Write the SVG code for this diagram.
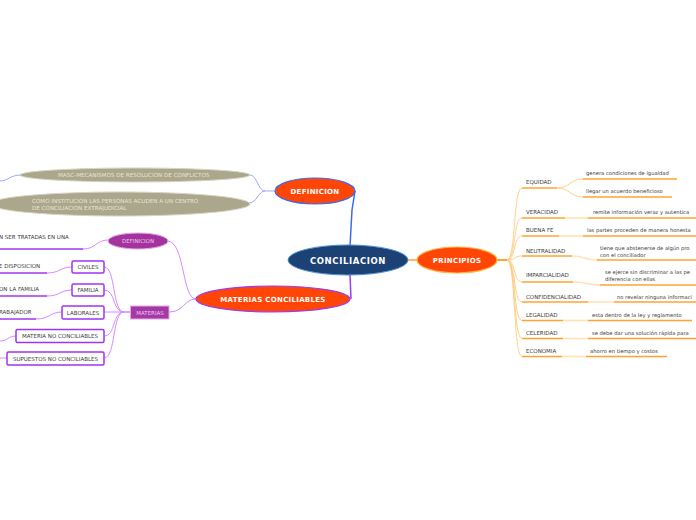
<svg xmlns="http://www.w3.org/2000/svg" width="696" height="520" viewBox="0 0 696 520">
<style>
text{font-family:"DejaVu Sans","Liberation Sans",sans-serif}
.t{font-size:5.2px;fill:#3a3a3a}
.u{font-size:5.5px;fill:#3a3a3a}
.main{font-size:7px;font-weight:bold;fill:#ffffff;text-anchor:middle;letter-spacing:0.3px}
.gt{font-size:5.6px;fill:#e6e3cf}
.pk{font-size:5.5px;fill:#f3c4f0;text-anchor:middle}
.box{fill:#ffffff;stroke:#a033f2;stroke-width:1.5}
.ou{stroke:#ffa32e;stroke-width:1.6;fill:none}
.ol{stroke:#ffe2b8;stroke-width:1.6;fill:none}
.oc{stroke:#ffcb7f;stroke-width:0.9;fill:none}
.pu{stroke:#a533f0;stroke-width:1.5;fill:none}
.pc{stroke:#d08cff;stroke-width:1;fill:none}
.bc{stroke:#99aaff;stroke-width:1;fill:none}
</style>
<g id="connectors">
<path d="M350,246 L352,210 L355,191" stroke="#3a6af0" stroke-width="1.5" fill="none"/>
<path d="M350,275 L351,299" stroke="#9a3cf5" stroke-width="1.5" fill="none"/>
<path d="M407,260 L418,260" stroke="#ffb868" stroke-width="2" fill="none"/>
<path d="M275,191 L265,191" class="bc"/>
<path d="M265,191 C258,191 257,175 250,175" class="bc"/>
<path d="M265,191 C258,191 257,203 249,203" class="bc"/>
<path d="M21,175 C10,175 8,181 0,181" class="bc"/>
<path d="M196,299 C182,299 185,243 168,241" class="pc"/>
<path d="M196,299 C184,299 184,312 169,312" class="pc"/>
<path d="M108,240 C96,240 96,249 83,249" class="pc"/>
<path d="M130,312 L124,312" stroke="#d08cff" stroke-width="1.6"/>
<path d="M124,312 C112,312 116,267 104,267" class="pc"/>
<path d="M124,312 C112,312 116,290 104,290" class="pc"/>
<path d="M124,312 L104,312" class="pc"/>
<path d="M124,312 C112,312 116,336 104,336" class="pc"/>
<path d="M124,312 C112,312 116,358 104,358" class="pc"/>
<path d="M72,267 C60,267 60,273 47,273" class="pc"/>
<path d="M72,290 C60,290 60,296 47,296" class="pc"/>
<path d="M62,312 C50,312 50,319 36,319" class="pc"/>
<path d="M16,336 C8,336 8,341 0,341" class="pc"/>
<path d="M7,358 L0,358" class="pc"/>
<path d="M497,260 L507,260" stroke="#ffa32e" stroke-width="2"/>
<path d="M507,260 C516,260 513,188 522,188" class="oc"/>
<path d="M507,260 C516,260 513,218 522,218" class="oc"/>
<path d="M507,260 C516,260 513,236 522,236" class="oc"/>
<path d="M507,260 C516,260 513,256 522,256" class="oc"/>
<path d="M507,260 C516,260 513,282 522,282" class="oc"/>
<path d="M507,260 C516,260 513,302 522,302" class="oc"/>
<path d="M507,260 C516,260 513,320.5 522,320.5" class="oc"/>
<path d="M507,260 C516,260 513,338.5 522,338.5" class="oc"/>
<path d="M507,260 C516,260 513,356.5 522,356.5" class="oc"/>
<path d="M557,188 C570,188 570,179 583,179" class="oc"/>
<path d="M557,188 C570,188 570,197 583,197" class="oc"/>
<path d="M565,218 L588,218" class="ol"/>
<path d="M559,236 L583,236" class="ol"/>
<path d="M572,256 C585,256 584,260 597,260" class="ol"/>
<path d="M573,282 C587,282 586,285 600,285" class="ol"/>
<path d="M588,302 L614,302" class="ol"/>
<path d="M563,320.5 L588,320.5" class="ol"/>
<path d="M563,338.5 L588,338.5" class="ol"/>
<path d="M562,356.5 L586,356.5" class="ol"/>
</g>
<g id="conciliacion">
<ellipse cx="348" cy="260" rx="60" ry="15" fill="#1c4174" stroke="#4a8fd0" stroke-width="1"/>
<text x="348" y="263.5" class="main" style="font-size:8.5px;letter-spacing:0.6px">CONCILIACION</text>
</g>
<g id="definicion">
<ellipse cx="315" cy="191" rx="40" ry="13" fill="#ff4606" stroke="#3a6af0" stroke-width="1.2"/>
<text x="315" y="193.5" class="main">DEFINICION</text>
</g>
<g id="materias-conciliables">
<ellipse cx="273" cy="299" rx="77" ry="13" fill="#ff4606" stroke="#9a3cf5" stroke-width="1.2"/>
<text x="273" y="301.5" class="main">MATERIAS CONCILIABLES</text>
</g>
<g id="principios">
<ellipse cx="457" cy="260" rx="40" ry="13" fill="#ff4606" stroke="#ffb040" stroke-width="1.2"/>
<text x="457" y="262.5" class="main">PRINCIPIOS</text>
</g>
<g id="masc">
<ellipse cx="135" cy="175" rx="115" ry="7" fill="#aba78d" stroke="#d6d3c2" stroke-width="1"/>
<text x="58" y="177" class="gt">MASC-MECANISMOS DE RESOLUCION DE CONFLICTOS</text>
</g>
<g id="como-institucion">
<ellipse cx="120" cy="204" rx="130" ry="12" fill="#aba78d" stroke="#d6d3c2" stroke-width="1"/>
<text x="32" y="202.5" class="gt">COMO INSTITUCION LAS PERSONAS ACUDEN A UN CENTRO</text>
<text x="32" y="209.5" class="gt">DE CONCILIACION EXTRAJUDICIAL</text>
</g>
<g id="definicion-sub">
<ellipse cx="138" cy="241" rx="30" ry="8" fill="#a3349e" stroke="#e6a6e6" stroke-width="1"/>
<text x="138" y="243" class="pk">DEFINICION</text>
</g>
<g id="tratadas">
<text x="-1" y="239" class="u">N SER TRATADAS EN UNA</text>
<path d="M0,249 L83,249" class="pu"/>
</g>
<g id="materias">
<rect x="130.5" y="306" width="38.5" height="13" fill="#a43aa6" stroke="#e6a6e6" stroke-width="1"/>
<text x="150" y="314.5" class="pk">MATERIAS</text>
</g>
<g id="civiles">
<rect x="72" y="261" width="32" height="12" rx="1.5" class="box"/>
<text x="88" y="269" class="u" text-anchor="middle">CIVILES</text>
</g>
<g id="disposicion">
<text x="-1" y="268" class="u">E DISPOSICION</text>
<path d="M0,273 L47,273" class="pu"/>
</g>
<g id="familia">
<rect x="72" y="284" width="32" height="12" rx="1.5" class="box"/>
<text x="88" y="292" class="u" text-anchor="middle">FAMILIA</text>
</g>
<g id="con-familia">
<text x="-1" y="290.5" class="u">ON LA FAMILIA</text>
<path d="M0,296 L47,296" class="pu"/>
</g>
<g id="laborales">
<rect x="62" y="306" width="42" height="13" rx="1.5" class="box"/>
<text x="83" y="314.5" class="u" text-anchor="middle">LABORALES</text>
</g>
<g id="trabajador">
<text x="-1" y="314" class="u">RABAJADOR</text>
<path d="M0,319 L36,319" class="pu"/>
</g>
<g id="materia-no">
<rect x="16" y="329.5" width="88" height="13" rx="1.5" class="box"/>
<text x="60" y="338" class="u" text-anchor="middle">MATERIA NO CONCILIABLES</text>
</g>
<g id="supuestos-no">
<rect x="7" y="352" width="97" height="13" rx="1.5" class="box"/>
<text x="55.5" y="360.5" class="u" text-anchor="middle">SUPUESTOS NO CONCILIABLES</text>
</g>
<g id="equidad">
<text x="526" y="183.5" class="u">EQUIDAD</text>
<path d="M522,188 L557,188" class="ou"/>
</g>
<g id="equidad-1">
<text x="586" y="175" class="t">genera condiciones de igualdad</text>
<path d="M583,179 L677,179" class="ou"/>
</g>
<g id="equidad-2">
<text x="586" y="193" class="t">llegar un acuerdo beneficioso</text>
<path d="M583,197 L672,197" class="ou"/>
</g>
<g id="veracidad">
<text x="526" y="214" class="u">VERACIDAD</text>
<path d="M522,218 L565,218" class="ou"/>
</g>
<g id="veracidad-1">
<text x="593" y="214" class="t">remite información veraz y autentica</text>
<path d="M588,218 L696,218" class="ou"/>
</g>
<g id="buena-fe">
<text x="526" y="232" class="u">BUENA FE</text>
<path d="M522,236 L559,236" class="ou"/>
</g>
<g id="buena-fe-1">
<text x="587" y="232" class="t">las partes proceden de manera honesta</text>
<path d="M583,236 L696,236" class="ou"/>
</g>
<g id="neutralidad">
<text x="526" y="252.5" class="u">NEUTRALIDAD</text>
<path d="M522,256 L572,256" class="ou"/>
</g>
<g id="neutralidad-1">
<text x="600" y="250" class="t">tiene que abstenerse de algún pro</text>
<text x="600" y="256.5" class="t">con el conciliador</text>
<path d="M597,260 L696,260" class="ou"/>
</g>
<g id="imparcialidad">
<text x="526" y="276.5" class="u">IMPARCIALIDAD</text>
<path d="M522,282 L573,282" class="ou"/>
</g>
<g id="imparcialidad-1">
<text x="605" y="274" class="t">se ejerce sin discriminar a las pe</text>
<text x="605" y="281" class="t">diferencia con ellas</text>
<path d="M600,285 L696,285" class="ou"/>
</g>
<g id="confidencialidad">
<text x="526" y="298.5" class="u">CONFIDENCIALIDAD</text>
<path d="M522,302 L588,302" class="ou"/>
</g>
<g id="confidencialidad-1">
<text x="617" y="298.5" class="t">no revelar ninguna informaci</text>
<path d="M614,302 L696,302" class="ou"/>
</g>
<g id="legalidad">
<text x="526" y="316.5" class="u">LEGALIDAD</text>
<path d="M522,320.5 L563,320.5" class="ou"/>
</g>
<g id="legalidad-1">
<text x="592" y="316.5" class="t">esta dentro de la ley y reglamento</text>
<path d="M588,320.5 L692,320.5" class="ou"/>
</g>
<g id="celeridad">
<text x="526" y="334.5" class="u">CELERIDAD</text>
<path d="M522,338.5 L563,338.5" class="ou"/>
</g>
<g id="celeridad-1">
<text x="592" y="334.5" class="t">se debe dar una solución rápida para</text>
<path d="M588,338.5 L696,338.5" class="ou"/>
</g>
<g id="economia">
<text x="526" y="352.5" class="u">ECONOMIA</text>
<path d="M522,356.5 L562,356.5" class="ou"/>
</g>
<g id="economia-1">
<text x="590" y="352.5" class="t">ahorro en tiempo y costos</text>
<path d="M586,356.5 L667,356.5" class="ou"/>
</g>
</svg>
